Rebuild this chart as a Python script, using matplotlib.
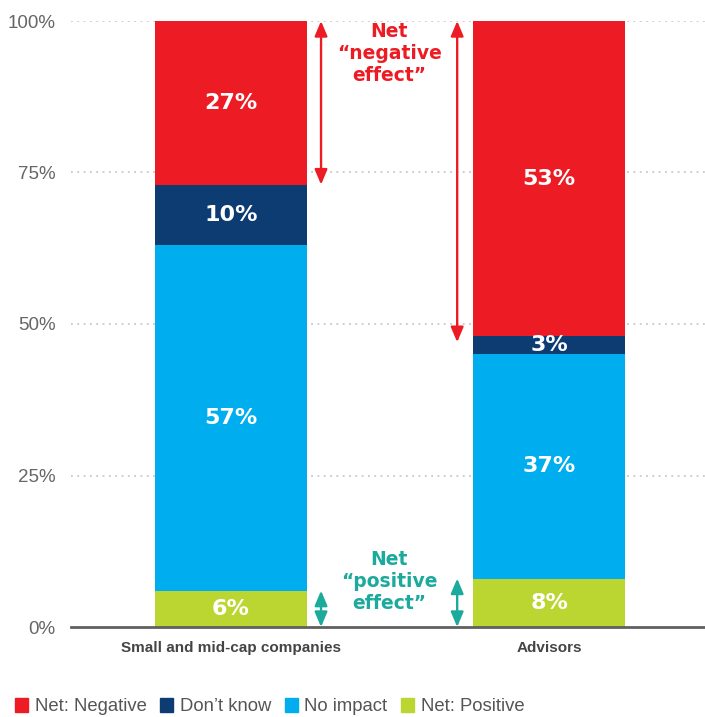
import matplotlib
matplotlib.use("Agg")
import matplotlib.pyplot as plt
from matplotlib.patches import Patch
import numpy as np

# survey shares by group, bottom to top
groups = ["Small and mid-cap companies", "Advisors"]
series = ["Net: Positive", "No impact", "Don\u2019t know", "Net: Negative"]
values = {
    "Net: Positive": [6, 8],
    "No impact": [57, 37],
    "Don\u2019t know": [10, 3],
    "Net: Negative": [27, 53],
}
colors = {
    "Net: Negative": "#ED1C24",
    "Don\u2019t know": "#0D3C73",
    "No impact": "#00AEEF",
    "Net: Positive": "#BCD631",
}
legend_order = ["Net: Negative", "Don\u2019t know", "No impact", "Net: Positive"]
yticks = [0, 25, 50, 75, 100]

red = "#ED1C24"
teal = "#1BAA9B"

fig = plt.figure(figsize=(7.05, 7.17), dpi=100)
ax = fig.add_axes([71 / 705, 90 / 717, 634 / 705, 606 / 717])

x = np.arange(len(groups))
width = 0.478
bottom = np.zeros(len(groups))
for s in series:
    v = np.array(values[s], dtype=float)
    ax.bar(x, v, width, bottom=bottom, color=colors[s], zorder=3)
    for xi, b, vi in zip(x, bottom, v):
        mid = min(b + vi / 2, (b + 100) / 2)
        ax.text(xi, mid, f"{int(vi)}%", ha="center", va="center", color="white",
                fontsize=16, fontweight="bold", family="DejaVu Sans", zorder=4)
    bottom += v

ax.set_xlim(-0.503, 1.49)
ax.set_ylim(0, 100)
ax.set_yticks(yticks)
ax.set_yticklabels([f"{t}%" for t in yticks], color="#666666", fontsize=13.5,
                   family="Liberation Sans")
ax.tick_params(axis="y", length=0, pad=11)
ax.tick_params(axis="x", length=0, pad=10)
ax.set_xticks(x)
ax.set_xticklabels(groups, color="#444444", fontsize=11, fontweight="bold",
                   family="Liberation Sans")
for t in yticks[1:]:
    ax.axhline(t, color="#C8C8C8", lw=1.3, ls=(0, (1, 2.5)), zorder=1)
for side in ["top", "right", "left"]:
    ax.spines[side].set_visible(False)
ax.spines["bottom"].set_color("#606060")
ax.spines["bottom"].set_linewidth(2)
ax.spines["bottom"].set_zorder(5)

# net effect arrows
neg_low = [100 - values["Net: Negative"][0], 100 - values["Net: Negative"][1]]
pos_high = values["Net: Positive"]
arrow_x = [0.283, 0.711]
style = "<|-|>,head_length=0.9,head_width=0.38"
for ax_x, lo in zip(arrow_x, neg_low):
    ax.annotate("", xy=(ax_x, 100), xytext=(ax_x, lo),
                arrowprops=dict(arrowstyle=style, color=red, lw=1.7,
                                shrinkA=0, shrinkB=0))
for ax_x, hi in zip(arrow_x, pos_high):
    ax.annotate("", xy=(ax_x, hi), xytext=(ax_x, 0),
                arrowprops=dict(arrowstyle=style, color=teal, lw=1.7,
                                shrinkA=0, shrinkB=0))

ax.text(0.497, 94.6, "Net\n\u201cnegative\neffect\u201d", ha="center", va="center",
        color=red, fontsize=13.5, fontweight="bold", linespacing=1.2,
        family="DejaVu Sans")
ax.text(0.497, 7.5, "Net\n\u201cpositive\neffect\u201d", ha="center", va="center",
        color=teal, fontsize=13.5, fontweight="bold", linespacing=1.2,
        family="DejaVu Sans")

handles = [Patch(color=colors[s]) for s in legend_order]
fig.legend(handles, legend_order, loc="lower left", bbox_to_anchor=(-0.002, -0.021),
           ncol=4, frameon=False, handlelength=0.7, handleheight=0.75,
           handletextpad=0.35, columnspacing=0.75,
           prop={"family": "Liberation Sans", "size": 13.3},
           labelcolor="#555555")

fig.savefig("out.png", dpi=100)
